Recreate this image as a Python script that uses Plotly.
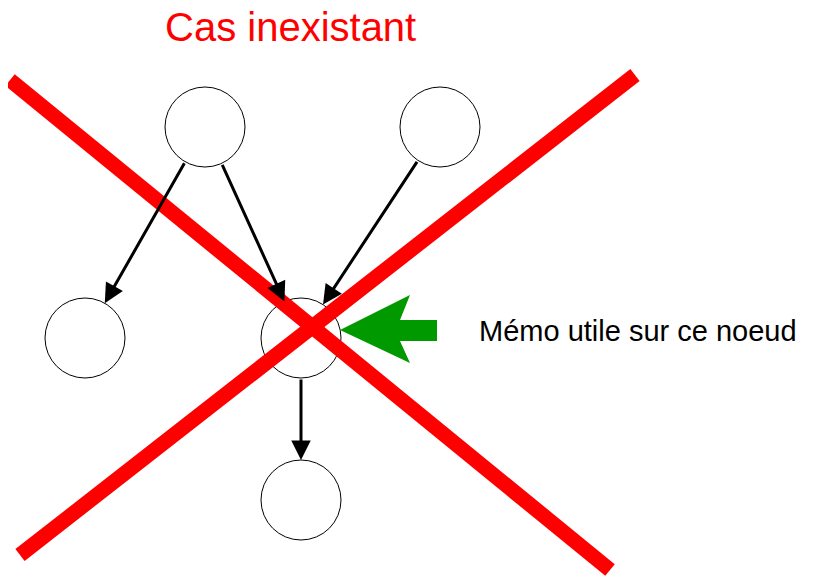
import plotly.graph_objects as go
import math

node_x = [205, 440, 85, 301, 301]
node_y = [127, 127, 338, 338, 500]
node_r = 40
edges = [(0, 2), (0, 3), (1, 3), (3, 4)]
cross_lines = [((10, 80), (610, 570)), ((635, 75), (20, 555))]
green_arrow = [(340, 330), (410, 295), (400, 320), (437, 320), (437, 341), (400, 341), (410, 363)]
title_text = "Cas inexistant"
label_text = "Mémo utile sur ce noeud"

fig = go.Figure()
shapes = []
for x, y in zip(node_x, node_y):
    shapes.append(dict(type="circle", xref="x", yref="y", x0=x-node_r, x1=x+node_r,
                       y0=y-node_r, y1=y+node_r, line=dict(color="black", width=1), fillcolor="white"))
for (x0, y0), (x1, y1) in cross_lines:
    shapes.append(dict(type="line", xref="x", yref="y", x0=x0, y0=y0, x1=x1, y1=y1,
                       line=dict(color="#ff0000", width=15)))
path = "M " + " L ".join(f"{x},{y}" for x, y in green_arrow) + " Z"
shapes.append(dict(type="path", xref="x", yref="y", path=path, fillcolor="#009900", line=dict(width=0)))
fig.update_layout(shapes=shapes)

anns = []
for a, b in edges:
    x0, y0, x1, y1 = node_x[a], node_y[a], node_x[b], node_y[b]
    dx, dy = x1-x0, y1-y0
    d = math.hypot(dx, dy)
    ux, uy = dx/d, dy/d
    sx, sy = x0+ux*node_r, y0+uy*node_r
    ex, ey = x1-ux*node_r, y1-uy*node_r
    anns.append(dict(x=ex, y=ey, ax=sx, ay=sy, xref="x", yref="y", axref="x", ayref="y",
                     showarrow=True, arrowhead=2, arrowsize=1.3, arrowwidth=3, arrowcolor="black", text=""))
anns.append(dict(x=290, y=27, xref="x", yref="y", text=title_text, showarrow=False,
                 font=dict(color="#ff0000", size=40, family="Liberation Sans, Arial")))
anns.append(dict(x=638, y=331, xref="x", yref="y", text=label_text, showarrow=False,
                 font=dict(color="black", size=29, family="Liberation Sans, Arial")))
fig.update_layout(annotations=anns)
fig.update_xaxes(range=[8, 848], visible=False)
fig.update_yaxes(range=[589, 8], visible=False)
fig.update_layout(width=840, height=581, margin=dict(l=0, r=0, t=0, b=0),
                  plot_bgcolor="white", paper_bgcolor="white", showlegend=False)
fig.write_html("out.html")
